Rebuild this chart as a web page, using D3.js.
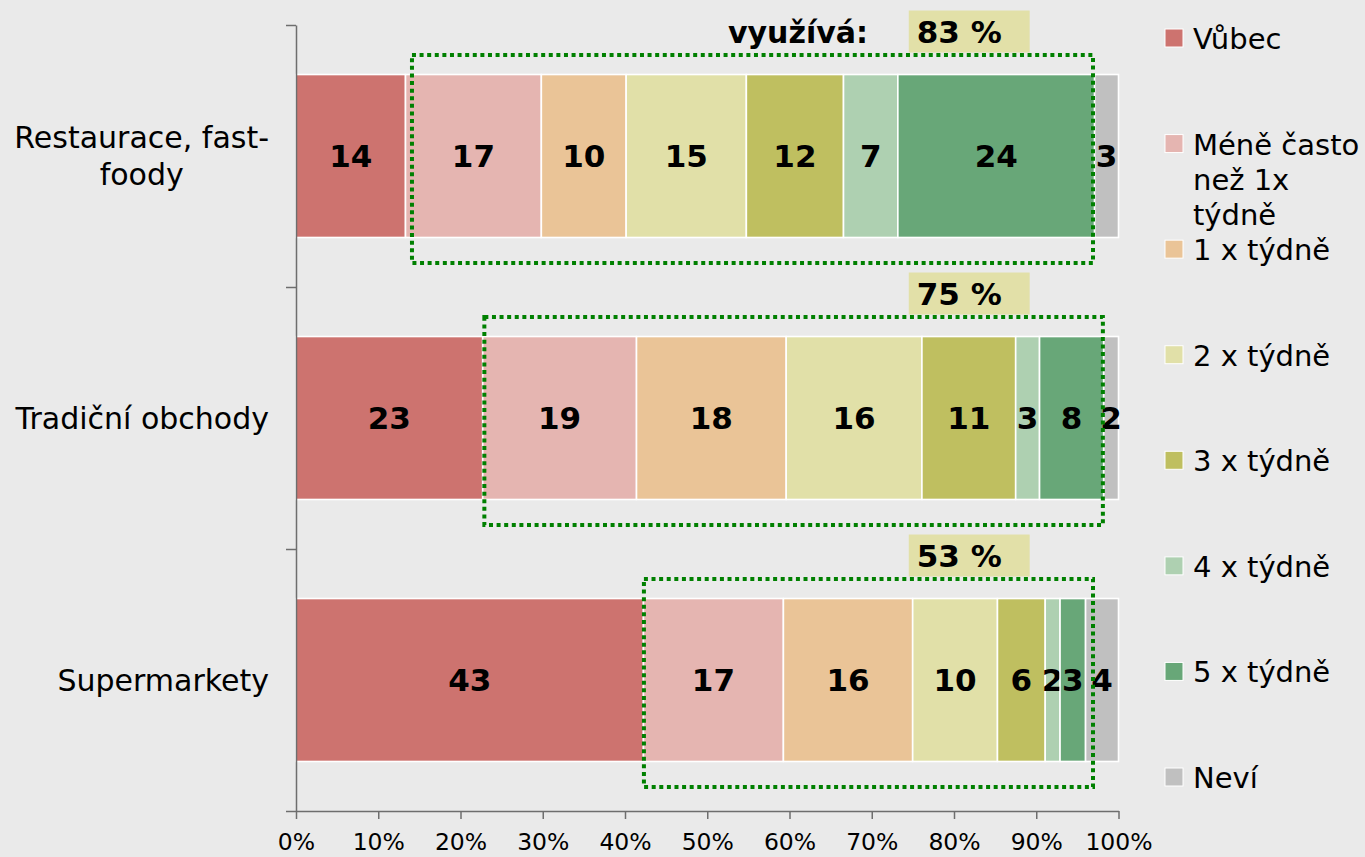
<!DOCTYPE html>
<html>
<head>
<meta charset="utf-8">
<script src="https://cdn.jsdelivr.net/npm/d3@7"></script>
<style>
  html, body { margin: 0; padding: 0; background: #eaeaea; }
  svg { display: block; font-family: "DejaVu Sans", Verdana, sans-serif; }
</style>
</head>
<body>
<svg id="chart" width="1365" height="857"></svg>
<script>
// categories (top to bottom) and their axis label lines
const categories = ["Restaurace, fast-foody", "Tradiční obchody", "Supermarkety"];
const categoryLines = [["Restaurace, fast-", "foody"], ["Tradiční obchody"], ["Supermarkety"]];

// answer series (legend order)
const seriesNames = ["Vůbec", "Méně často než 1x týdně", "1 x týdně", "2 x týdně",
                     "3 x týdně", "4 x týdně", "5 x týdně", "Neví"];
const seriesLegend = [["Vůbec"], ["Méně často", "než 1x", "týdně"], ["1 x týdně"], ["2 x týdně"],
                      ["3 x týdně"], ["4 x týdně"], ["5 x týdně"], ["Neví"]];
const seriesColors = ["#cd736f", "#e5b5b1", "#eac497", "#e1e0a8", "#bfbf60", "#aed0b1", "#68a778", "#c0c0c0"];

// shares per category (%)
const restaurace = [13.3, 16.5, 10.3, 14.6, 11.8, 6.6, 23.9, 2.9];
const tradicni   = [22.7, 18.7, 18.2, 16.5, 11.4, 2.9, 7.8, 1.8];
const supermarkety = [42.2, 17.0, 15.7, 10.3, 5.8, 1.8, 3.1, 4.0];

// printed labels inside the segments
const restauraceLabels = [14, 17, 10, 15, 12, 7, 24, 3];
const tradicniLabels   = [23, 19, 18, 16, 11, 3, 8, 2];
const supermarketyLabels = [43, 17, 16, 10, 6, 2, 3, 4];

// "využívá" share and the dotted frame extent (in axis %)
const usesShare = [83, 75, 53];
const usesFrom  = [14.1, 22.9, 42.3];
const usesTo    = [96.9, 98.1, 96.9];

const xTicks = [0, 10, 20, 30, 40, 50, 60, 70, 80, 90, 100];

const svg = d3.select("#chart");
const margin = { top: 25, right: 247, bottom: 46, left: 296 };
const W = 1365, H = 857;

const x = d3.scaleLinear().domain([0, 100]).range([margin.left, W - margin.right + 0.5]);
const y = d3.scaleBand().domain(categories).range([margin.top, H - margin.bottom])
    .paddingInner(0.378).paddingOuter(0.189);
const yBounds = d3.scaleLinear().domain([0, categories.length]).range([margin.top, H - margin.bottom]);
const color = d3.scaleOrdinal().domain(seriesNames).range(seriesColors);

const rows = [restaurace, tradicni, supermarkety].map((vals, i) => {
    const r = { category: categories[i] };
    seriesNames.forEach((s, j) => r[s] = vals[j]);
    return r;
});
const labelRows = [restauraceLabels, tradicniLabels, supermarketyLabels];

const stacked = d3.stack().keys(seriesNames).offset(d3.stackOffsetExpand)(rows);

// bars
const layers = svg.append("g").selectAll("g")
    .data(stacked)
    .enter().append("g")
    .attr("fill", d => color(d.key));

layers.selectAll("rect")
    .data(d => d.map((p, i) => ({ p, i, key: d.key, j: seriesNames.indexOf(d.key) })))
    .enter().append("rect")
    .attr("x", d => x(d.p[0] * 100))
    .attr("width", d => x(d.p[1] * 100) - x(d.p[0] * 100))
    .attr("y", d => y(d.p.data.category))
    .attr("height", y.bandwidth())
    .attr("stroke", "#ffffff")
    .attr("stroke-width", 1.6);

// segment labels
layers.selectAll("text")
    .data(d => d.map((p, i) => ({ p, i, j: seriesNames.indexOf(d.key) })))
    .enter().append("text")
    .attr("x", d => x((d.p[0] + d.p[1]) * 50))
    .attr("y", d => y(d.p.data.category) + y.bandwidth() / 2)
    .attr("text-anchor", "middle")
    .attr("dominant-baseline", "central")
    .attr("font-size", "31px")
    .attr("font-weight", "bold")
    .attr("fill", "#000")
    .text(d => labelRows[d.i][d.j]);

// dotted frames around the "uses" part
svg.append("g").selectAll("rect")
    .data(categories)
    .enter().append("rect")
    .attr("x", (c, i) => x(usesFrom[i]))
    .attr("width", (c, i) => x(usesTo[i]) - x(usesFrom[i]))
    .attr("y", (c, i) => yBounds(i) + 30)
    .attr("height", (c, i) => yBounds(i + 1) - yBounds(i) - 54)
    .attr("fill", "none")
    .attr("stroke", "#008000")
    .attr("stroke-width", 4)
    .attr("stroke-dasharray", "4,3.6");

// share boxes
const boxes = svg.append("g").selectAll("g")
    .data(categories)
    .enter().append("g")
    .attr("transform", (c, i) => `translate(${x(74.5)},${y(c) - 64})`);
boxes.append("rect")
    .attr("width", x(89.2) - x(74.5))
    .attr("height", 42)
    .attr("fill", "#e2e0a8");
boxes.append("text")
    .attr("x", 8)
    .attr("y", 32)
    .attr("font-size", "31px")
    .attr("font-weight", "bold")
    .text((c, i) => usesShare[i] + " %");

svg.append("text")
    .attr("x", 868)
    .attr("y", y(categories[0]) - 32)
    .attr("text-anchor", "end")
    .attr("font-size", "30px")
    .attr("font-weight", "bold")
    .text("využívá:");

// x axis
const xAxis = svg.append("g")
    .attr("transform", `translate(0,${H - margin.bottom})`)
    .call(d3.axisBottom(x).tickValues(xTicks).tickFormat(d => d + "%").tickSize(8).tickSizeOuter(0));
xAxis.select(".domain").attr("stroke", "#6e6e6e").attr("stroke-width", 1.5);
xAxis.selectAll(".tick line").attr("stroke", "#6e6e6e").attr("stroke-width", 1.5);
xAxis.selectAll(".tick text")
    .attr("font-family", "DejaVu Sans, Verdana, sans-serif")
    .attr("font-size", "23.5px")
    .attr("fill", "#000")
    .attr("dy", null)
    .attr("y", 39);

// y axis (ticks between categories)
const yAxis = svg.append("g")
    .attr("transform", `translate(${margin.left},0)`)
    .call(d3.axisLeft(yBounds).tickValues(d3.range(categories.length + 1)).tickFormat("").tickSize(10).tickSizeOuter(0));
yAxis.select(".domain").attr("stroke", "#6e6e6e").attr("stroke-width", 1.5);
yAxis.selectAll(".tick line").attr("stroke", "#6e6e6e").attr("stroke-width", 1.5);

// category labels (block centred, right edge near axis)
const lineH = 37;
categories.forEach((c, i) => {
    const lines = categoryLines[i];
    const cy = y(c) + y.bandwidth() / 2;
    const g = svg.append("g");
    const texts = g.selectAll("text")
        .data(lines)
        .enter().append("text")
        .attr("font-size", "30px")
        .attr("fill", "#000")
        .attr("text-anchor", "middle")
        .attr("dominant-baseline", "central")
        .attr("y", (d, k) => cy + (k - (lines.length - 1) / 2) * lineH)
        .text(d => d);
    let maxW = 0;
    texts.each(function () { maxW = Math.max(maxW, this.getComputedTextLength()); });
    texts.attr("x", 269 - maxW / 2);
});

// legend
const legendY = d3.scalePoint().domain(seriesNames).range([38, 777]);
const legend = svg.append("g").selectAll("g")
    .data(seriesNames)
    .enter().append("g")
    .attr("transform", d => `translate(1165,${legendY(d)})`);
legend.append("rect")
    .attr("x", 0).attr("y", -9)
    .attr("width", 18).attr("height", 18)
    .attr("fill", d => color(d))
    .attr("stroke", "#ffffff")
    .attr("stroke-width", 1);
legend.append("text")
    .attr("font-size", "29px")
    .attr("fill", "#000")
    .selectAll("tspan")
    .data((d, i) => seriesLegend[i])
    .enter().append("tspan")
    .attr("x", 28)
    .attr("y", (d, k) => 11 + k * 35)
    .text(d => d);
</script>
</body>
</html>
